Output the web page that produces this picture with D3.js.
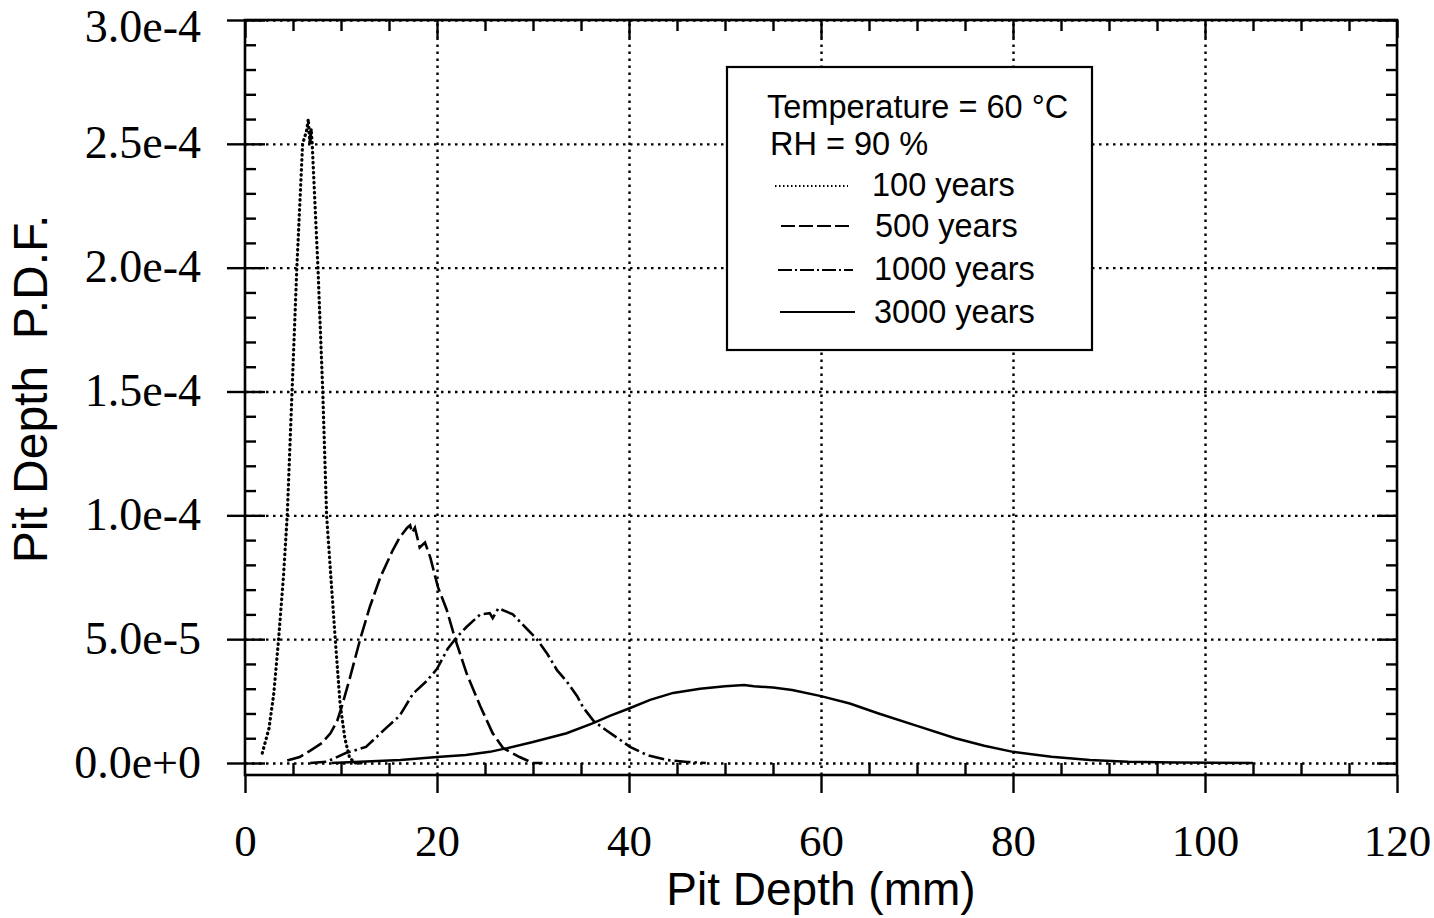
<!DOCTYPE html>
<html>
<head>
<meta charset="utf-8">
<script src="https://cdn.jsdelivr.net/npm/d3@7"></script>
<style>
  html, body { margin: 0; padding: 0; background: #fff; }
  svg { display: block; }
</style>
</head>
<body>
<script>
// ---------------- data ----------------
const xMajorTicks = [0, 20, 40, 60, 80, 100, 120];
const xTickLabels = ["0", "20", "40", "60", "80", "100", "120"];
const yMajorTicks = [0, 5e-5, 1e-4, 1.5e-4, 2e-4, 2.5e-4, 3e-4];
const yTickLabels = ["0.0e+0", "5.0e-5", "1.0e-4", "1.5e-4", "2.0e-4", "2.5e-4", "3.0e-4"];
const xMinorTicks = [5,10,15,25,30,35,45,50,55,65,70,75,85,90,95,105,110,115];
const yMinorTicks = [1e-5,2e-5,3e-5,4e-5,6e-5,7e-5,8e-5,9e-5,1.1e-4,1.2e-4,1.3e-4,1.4e-4,
                     1.6e-4,1.7e-4,1.8e-4,1.9e-4,2.1e-4,2.2e-4,2.3e-4,2.4e-4,2.6e-4,2.7e-4,2.8e-4,2.9e-4];

const legendTitle = ["Temperature = 60 °C", "RH = 90 %"];
const seriesNames = ["100 years", "500 years", "1000 years", "3000 years"];

const depth100 = [1.8, 2.5, 3.0, 3.5, 4.0, 4.4, 4.9, 5.4, 6.0, 6.4, 6.6, 6.75, 6.9, 7.0, 7.6, 8.1, 8.5, 9.0, 9.4, 9.9, 10.4, 10.9, 11.5, 12.5];
const pdf100   = [4e-6, 1.4e-5, 2.8e-5, 5.0e-5, 7.5e-5, 1.0e-4, 1.5e-4, 2.0e-4, 2.5e-4, 2.55e-4, 2.6e-4, 2.5e-4, 2.56e-4, 2.5e-4, 2.0e-4, 1.5e-4, 1.0e-4, 7.2e-5, 5.0e-5, 2.4e-5, 1.0e-5, 2e-6, 0, 0];

const depth500 = [4.4, 5.7, 6.8, 8.0, 8.9, 9.6, 10.1, 10.9, 12.0, 13.0, 14.1, 15.4, 16.1, 16.9, 17.2, 17.4, 17.7, 18.2, 18.75, 19.3, 20.1, 21.0, 21.9, 23.1, 24.5, 25.8, 26.9, 28.6, 30.0, 31.0];
const pdf500   = [1e-6, 2.4e-6, 5e-6, 8e-6, 1.2e-5, 1.7e-5, 2.3e-5, 3.4e-5, 5.0e-5, 6.3e-5, 7.5e-5, 8.6e-5, 9.1e-5, 9.5e-5, 9.6e-5, 9.3e-5, 9.5e-5, 8.7e-5, 8.9e-5, 8.3e-5, 7.1e-5, 6.2e-5, 5.0e-5, 3.6e-5, 2.3e-5, 1.2e-5, 6e-6, 2.4e-6, 0, 0];

const depth1000 = [6.8, 8.5, 10.5, 12.6, 14.8, 16.1, 17.5, 18.9, 20.0, 21.1, 22.1, 23.1, 24.5, 25.5, 25.8, 26.4, 27.3, 27.9, 29.4, 30.4, 31.5, 32.5, 33.5, 34.6, 35.2, 36.3, 37.7, 39.1, 40.1, 41.9, 44.0, 46.1, 48.0];
const pdf1000   = [0, 5e-7, 4e-6, 6.5e-6, 1.45e-5, 1.9e-5, 2.8e-5, 3.3e-5, 3.8e-5, 4.6e-5, 5.1e-5, 5.5e-5, 6.0e-5, 6.05e-5, 5.85e-5, 6.25e-5, 6.1e-5, 6.0e-5, 5.4e-5, 5.0e-5, 4.4e-5, 3.75e-5, 3.3e-5, 2.7e-5, 2.26e-5, 1.7e-5, 1.3e-5, 9.3e-6, 6.5e-6, 3.2e-6, 1.2e-6, 4e-7, 0];

const depth3000 = [9, 12, 16.2, 20, 23, 25.5, 27.3, 30, 33.5, 36.2, 38, 40, 42.2, 44.6, 47.4, 50, 52, 53, 55, 57, 60, 63, 66, 70, 74, 77, 80, 84, 88, 92, 97, 105];
const pdf3000   = [0, 5e-7, 1.2e-6, 2.4e-6, 3.2e-6, 4.5e-6, 6e-6, 8.5e-6, 1.2e-5, 1.6e-5, 1.9e-5, 2.2e-5, 2.55e-5, 2.83e-5, 3.0e-5, 3.1e-5, 3.15e-5, 3.1e-5, 3.05e-5, 2.95e-5, 2.7e-5, 2.4e-5, 2.0e-5, 1.5e-5, 1.0e-5, 7e-6, 4.5e-6, 2.5e-6, 1.2e-6, 5e-7, 2e-7, 0];

// ---------------- layout ----------------
const W = 1434, H = 918;
const pL = 245, pR = 1397, pT = 20, pB = 775;
const y0px = 763; // pixel of value 0

const svg = d3.select("body").append("svg").attr("width", W).attr("height", H);

const x = d3.scaleLinear().domain([0, 120]).range([pL, pR]);
const yMinVal = -(pB - y0px) / (y0px - pT) * 3e-4;
const y = d3.scaleLinear().domain([yMinVal, 3e-4]).range([pB, pT]);

// gridlines (dotted)
const gridStyle = g => g.selectAll("line").attr("stroke", "#000").attr("stroke-width", 2.4).attr("stroke-dasharray", "2.5,4.5");
svg.append("g").attr("transform", `translate(${pL},0)`)
  .call(d3.axisLeft(y).tickValues(yMajorTicks).tickSize(-(pR - pL)).tickFormat(""))
  .call(g => g.select(".domain").remove()).call(gridStyle);
svg.append("g").attr("transform", `translate(0,${pB})`)
  .call(d3.axisBottom(x).tickValues(xMajorTicks.slice(1, -1)).tickSize(-(pB - pT)).tickFormat(""))
  .call(g => g.select(".domain").remove()).call(gridStyle);

// series
const line = d3.line().x(d => x(d[0])).y(d => y(d[1]));
const series = [
  { xs: depth100, ys: pdf100, dash: "0.6,4.4", w: 3.2, cap: "round" },
  { xs: depth500, ys: pdf500, dash: "17,5", w: 2.6, cap: "butt" },
  { xs: depth1000, ys: pdf1000, dash: "16,4,2.5,4", w: 2.6, cap: "butt" },
  { xs: depth3000, ys: pdf3000, dash: null, w: 2.5, cap: "butt" }
];
series.forEach(s => {
  svg.append("path")
    .datum(d3.zip(s.xs, s.ys))
    .attr("d", line)
    .attr("fill", "none")
    .attr("stroke", "#000")
    .attr("stroke-width", s.w)
    .attr("stroke-linecap", s.cap)
    .attr("stroke-dasharray", s.dash);
});

// ticks
const tickStyle = g => { g.select(".domain").remove(); g.selectAll("line").attr("stroke", "#000").attr("stroke-width", 2.4); };
// minor ticks, inward
svg.append("g").attr("transform", `translate(${pL},0)`)
  .call(d3.axisLeft(y).tickValues(yMinorTicks).tickSize(-11).tickFormat("")).call(tickStyle);
svg.append("g").attr("transform", `translate(${pR},0)`)
  .call(d3.axisRight(y).tickValues(yMinorTicks).tickSize(-11).tickFormat("")).call(tickStyle);
svg.append("g").attr("transform", `translate(0,${pB})`)
  .call(d3.axisBottom(x).tickValues(xMinorTicks).tickSize(-12).tickFormat("")).call(tickStyle);
svg.append("g").attr("transform", `translate(0,${pT})`)
  .call(d3.axisTop(x).tickValues(xMinorTicks).tickSize(-11).tickFormat("")).call(tickStyle);
// major ticks, inward
svg.append("g").attr("transform", `translate(${pL},0)`)
  .call(d3.axisLeft(y).tickValues(yMajorTicks).tickSize(-20).tickFormat("")).call(tickStyle);
svg.append("g").attr("transform", `translate(${pR},0)`)
  .call(d3.axisRight(y).tickValues(yMajorTicks).tickSize(-20).tickFormat("")).call(tickStyle);
svg.append("g").attr("transform", `translate(0,${pT})`)
  .call(d3.axisTop(x).tickValues(xMajorTicks).tickSize(-18).tickFormat("")).call(tickStyle);

// major ticks, outward with labels
svg.append("g").attr("transform", `translate(${pL},0)`)
  .call(d3.axisLeft(y).tickValues(yMajorTicks).tickSize(18).tickPadding(26)
        .tickFormat((d, i) => yTickLabels[i]))
  .call(tickStyle)
  .call(g => g.selectAll("text")
        .attr("font-family", "'Liberation Serif', 'Times New Roman', serif")
        .attr("font-size", 46).attr("fill", "#000")
        .attr("dy", (d, i) => i === yMajorTicks.length - 1 ? 21 : 14));
svg.append("g").attr("transform", `translate(0,${pB})`)
  .call(d3.axisBottom(x).tickValues(xMajorTicks).tickSize(18)
        .tickFormat((d, i) => xTickLabels[i]))
  .call(tickStyle)
  .call(g => g.selectAll("text")
        .attr("font-family", "'Liberation Serif', 'Times New Roman', serif")
        .attr("font-size", 45).attr("fill", "#000")
        .attr("y", 81).attr("dy", 0));

// frame
svg.append("rect").attr("x", pL).attr("y", pT)
  .attr("width", pR - pL).attr("height", pB - pT)
  .attr("fill", "none").attr("stroke", "#000").attr("stroke-width", 2.6);

// axis titles
svg.append("text").attr("x", (pL + pR) / 2).attr("y", 905)
  .attr("text-anchor", "middle")
  .attr("font-family", "'Liberation Sans', Arial, sans-serif").attr("font-size", 46)
  .text("Pit Depth (mm)");
svg.append("text").attr("transform", "translate(47,389) rotate(-90)")
  .attr("text-anchor", "middle")
  .attr("font-family", "'Liberation Sans', Arial, sans-serif").attr("font-size", 48)
  .style("white-space", "pre")
  .text("Pit Depth  P.D.F.");

// legend
const lg = svg.append("g");
lg.append("rect").attr("x", 727).attr("y", 67).attr("width", 365).attr("height", 283)
  .attr("fill", "#fff").attr("stroke", "#000").attr("stroke-width", 2.2);
const lgFont = "'Liberation Sans', Arial, sans-serif";
const titlePos = [[767, 118], [770, 155]];
legendTitle.forEach((t, i) => {
  lg.append("text").attr("x", titlePos[i][0]).attr("y", titlePos[i][1])
    .attr("font-family", lgFont).attr("font-size", 32.5).text(t);
});
const itemText = [[872, 196], [875, 237], [874, 280], [874, 323]];
const itemLine = [[775, 848, 186], [781, 853, 226], [778, 853, 270], [780, 855, 312]];
seriesNames.forEach((n, i) => {
  lg.append("line").attr("x1", itemLine[i][0]).attr("x2", itemLine[i][1])
    .attr("y1", itemLine[i][2]).attr("y2", itemLine[i][2])
    .attr("stroke", "#000").attr("stroke-width", 1.8)
    .attr("stroke-dasharray", ["1.5,2.5", "14,4", "14,3,2,3", null][i]);
  lg.append("text").attr("x", itemText[i][0]).attr("y", itemText[i][1])
    .attr("font-family", lgFont).attr("font-size", 32.5).text(n);
});
</script>
</body>
</html>
